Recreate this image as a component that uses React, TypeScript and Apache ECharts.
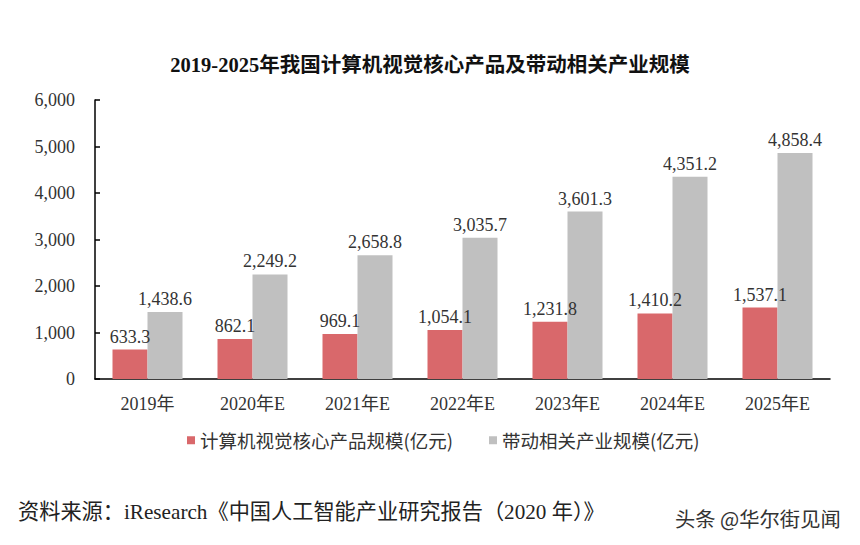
import React, { useEffect, useRef } from "react";
import * as echarts from "echarts";

const categories = ["2019年", "2020年E", "2021年E", "2022年E", "2023年E", "2024年E", "2025年E"];
const coreValues = [633.3, 862.1, 969.1, 1054.1, 1231.8, 1410.2, 1537.1];
const drivenValues = [1438.6, 2249.2, 2658.8, 3035.7, 3601.3, 4351.2, 4858.4];
const seriesNames = ["计算机视觉核心产品规模(亿元)", "带动相关产业规模(亿元)"];

const serif = "'Liberation Serif', 'Times New Roman', 'Noto Sans CJK SC', serif";
const sans = "'Noto Sans CJK SC', 'Noto Sans', sans-serif";

const fmt = (v: number) =>
  v.toLocaleString("en-US", { minimumFractionDigits: 1, maximumFractionDigits: 1 });

export default function App() {
  const ref = useRef<HTMLDivElement>(null);
  useEffect(() => {
    if (!ref.current) return;
    const chart = echarts.init(ref.current, undefined, { renderer: "svg" });
    chart.setOption({
      animation: false,
      backgroundColor: "#ffffff",
      title: [
        {
          text: "2019-2025年我国计算机视觉核心产品及带动相关产业规模",
          left: "center",
          top: 50,
          textStyle: { fontFamily: serif, fontSize: 20.5, fontWeight: "bold", color: "#111" },
        },
        {
          text: "资料来源：iResearch《中国人工智能产业研究报告（2020 年）》",
          left: 13,
          top: 496,
          textStyle: { fontFamily: serif, fontSize: 21.2, fontWeight: "normal", color: "#222" },
        },
        {
          text: "头条 @华尔街见闻",
          left: 670,
          top: 503,
          textStyle: { fontFamily: sans, fontSize: 20.3, fontWeight: "normal", color: "#333" },
        },
      ],
      legend: {
        top: 426,
        left: 182,
        itemWidth: 8,
        itemHeight: 8,
        itemGap: 36,
        icon: "rect",
        textStyle: { fontFamily: sans, fontSize: 18.5, color: "#333" },
        data: seriesNames,
      },
      grid: { left: 95, right: 30, top: 100, bottom: 166 },
      xAxis: {
        type: "category",
        data: categories,
        axisLine: { lineStyle: { color: "#000", width: 1.5 } },
        axisTick: { show: false },
        axisLabel: { fontFamily: serif, fontSize: 18, color: "#333", margin: 16 },
      },
      yAxis: {
        type: "value",
        min: 0,
        max: 6000,
        interval: 1000,
        axisLine: { show: true, lineStyle: { color: "#000", width: 1.5 } },
        axisTick: { show: true, inside: true, length: 5, lineStyle: { color: "#000", width: 1.5 } },
        splitLine: { show: false },
        axisLabel: {
          fontFamily: serif,
          fontSize: 18,
          color: "#333",
          margin: 20,
          formatter: (v: number) => v.toLocaleString("en-US"),
        },
      },
      series: [
        {
          name: seriesNames[0],
          type: "bar",
          data: coreValues,
          barWidth: 35,
          barGap: "0%",
          itemStyle: { color: "#D9686B" },
          label: {
            show: true,
            position: "top",
            distance: 4,
            fontFamily: serif,
            fontSize: 18,
            color: "#333",
            formatter: (p: any) => fmt(p.value),
          },
        },
        {
          name: seriesNames[1],
          type: "bar",
          data: drivenValues,
          barWidth: 35,
          barGap: "0%",
          itemStyle: { color: "#C0C0C0" },
          label: {
            show: true,
            position: "top",
            distance: 4,
            fontFamily: serif,
            fontSize: 18,
            color: "#333",
            formatter: (p: any) => fmt(p.value),
          },
        },
      ],
    });
    return () => chart.dispose();
  }, []);
  return (
    <div
      ref={ref}
      style={{ position: "absolute", left: 0, top: 0, width: 860, height: 545 }}
    />
  );
}
